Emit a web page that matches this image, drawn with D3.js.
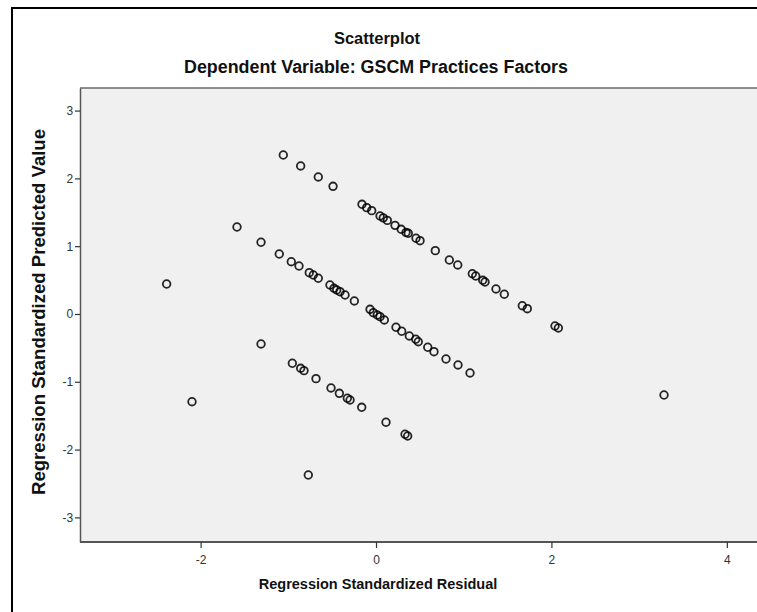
<!DOCTYPE html>
<html>
<head>
<meta charset="utf-8">
<script src="https://cdn.jsdelivr.net/npm/d3@7"></script>
<style>
  html, body { margin: 0; padding: 0; background: #fff; }
  svg { display: block; }
  text { font-family: "Liberation Sans", Arial, sans-serif; }
</style>
</head>
<body>
<svg id="chart" width="757" height="612"></svg>
<script>
// Regression standardized residuals (x) and predicted values (y)
const residual = [
  // upper band
  -1.057, -0.859, -0.658, -0.490, -0.160, -0.106, -0.049, 0.046, 0.083, 0.129,
  0.217, 0.287, 0.342, 0.368, 0.456, 0.502, 0.676, 0.836, 0.932, 1.098,
  1.137, 1.217, 1.243, 1.368, 1.463, 1.668, 1.725, 2.041, 2.079,
  // middle band
  -2.387, -1.585, -1.311, -1.103, -0.966, -0.878, -0.761, -0.715, -0.658, -0.525,
  -0.479, -0.448, -0.410, -0.353, -0.247, -0.068, -0.031, 0.015, 0.046, 0.095,
  0.228, 0.293, 0.380, 0.453, 0.482, 0.590, 0.661, 0.798, 0.935, 1.072,
  // lower band
  -2.098, -1.311, -0.954, -0.859, -0.821, -0.684, -0.513, -0.418, -0.327, -0.296,
  -0.163, 0.114, 0.331, 0.361, -0.772, 3.284
];
const predicted = [
  2.345, 2.183, 2.021, 1.883, 1.618, 1.568, 1.524, 1.445, 1.418, 1.380,
  1.307, 1.249, 1.202, 1.190, 1.117, 1.081, 0.934, 0.796, 0.723, 0.594,
  0.560, 0.497, 0.472, 0.369, 0.291, 0.122, 0.078, -0.177, -0.206,
  0.442, 1.283, 1.058, 0.885, 0.771, 0.708, 0.609, 0.575, 0.527, 0.428,
  0.379, 0.354, 0.329, 0.280, 0.192, 0.069, 0.019, -0.015, -0.040, -0.088,
  -0.196, -0.255, -0.324, -0.373, -0.409, -0.491, -0.556, -0.664, -0.752, -0.870,
  -1.294, -0.442, -0.727, -0.801, -0.836, -0.954, -1.091, -1.170, -1.243, -1.268,
  -1.376, -1.597, -1.774, -1.799, -2.375, -1.195
];
const xTicks = [-2, 0, 2, 4];
const yTicks = [-3, -2, -1, 0, 1, 2, 3];

const title = "Scatterplot";
const subtitle = "Dependent Variable: GSCM Practices Factors";
const xLabel = "Regression Standardized Residual";
const yLabel = "Regression Standardized Predicted Value";

const svg = d3.select("#chart");
const W = 757, H = 612;
const plot = { left: 80, top: 88, right: 757, bottom: 542 };

const x = d3.scaleLinear().domain([-3.375, 4.344]).range([plot.left, plot.right]);
const y = d3.scaleLinear().domain([-3.363, 3.333]).range([plot.bottom, plot.top]);

// outer frame
svg.append("rect")
  .attr("x", 12).attr("y", 8).attr("width", W).attr("height", H)
  .attr("fill", "#fff").attr("stroke", "#000").attr("stroke-width", 2);

// titles
svg.append("text").attr("x", 377).attr("y", 44).attr("text-anchor", "middle")
  .attr("font-size", 16.5).attr("font-weight", "bold").attr("fill", "#111").text(title);
svg.append("text").attr("x", 376).attr("y", 73).attr("text-anchor", "middle")
  .attr("font-size", 17.5).attr("font-weight", "bold").attr("fill", "#111")
  .attr("textLength", 384).attr("lengthAdjust", "spacingAndGlyphs").text(subtitle);

// plot background
svg.append("rect")
  .attr("x", plot.left).attr("y", plot.top)
  .attr("width", plot.right - plot.left + 5).attr("height", plot.bottom - plot.top)
  .attr("fill", "#f0f0f0");
svg.append("line")
  .attr("x1", plot.left).attr("x2", W).attr("y1", plot.top).attr("y2", plot.top)
  .attr("stroke", "#6a6a6a").attr("stroke-width", 1.5);

// axes
const xAxis = d3.axisBottom(x).tickValues(xTicks).tickSize(6).tickSizeOuter(0)
  .tickFormat(d => String(d));
const yAxis = d3.axisLeft(y).tickValues(yTicks).tickSize(5).tickSizeOuter(0)
  .tickFormat(d => String(d));

const gx = svg.append("g").attr("transform", `translate(0,${plot.bottom})`).call(xAxis);
const gy = svg.append("g").attr("transform", `translate(${plot.left},0)`).call(yAxis);
gx.select(".domain").attr("stroke", "#555").attr("stroke-width", 2)
  .attr("d", `M${plot.left},0H${W}`);
gy.select(".domain").attr("stroke", "#555").attr("stroke-width", 1.5);
[gx, gy].forEach(g => {
  g.selectAll(".tick line").attr("stroke", "#333").attr("stroke-width", 1.2);
  g.selectAll(".tick text").attr("fill", "#333").attr("font-size", 12)
    .attr("font-family", "Liberation Sans, Arial, sans-serif");
});
gx.selectAll(".tick text").attr("dy", "1.1em");
gy.selectAll(".tick text").attr("dx", "0.1em");

// axis titles
svg.append("text").attr("x", 378).attr("y", 589).attr("text-anchor", "middle")
  .attr("font-size", 14.5).attr("font-weight", "bold").attr("fill", "#111").text(xLabel);
svg.append("text").attr("transform", `translate(45,312) rotate(-90)`)
  .attr("text-anchor", "middle")
  .attr("font-size", 17.5).attr("font-weight", "bold").attr("fill", "#111")
  .attr("textLength", 366).attr("lengthAdjust", "spacingAndGlyphs").text(yLabel);

// points
const pts = residual.map((r, i) => ({ r, p: predicted[i] }));
svg.append("g").selectAll("circle").data(pts).join("circle")
  .attr("cx", d => x(d.r)).attr("cy", d => y(d.p)).attr("r", 3.8)
  .attr("fill", "none").attr("stroke", "#000").attr("stroke-width", 1.8)
  .attr("stroke-opacity", 0.85);
</script>
</body>
</html>
